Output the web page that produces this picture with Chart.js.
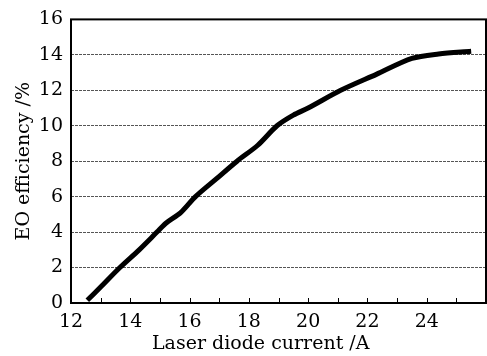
<!DOCTYPE html>
<html>
<head>
<meta charset="utf-8">
<script src="https://cdn.jsdelivr.net/npm/chart.js@4/dist/chart.umd.min.js"></script>
<style>
  html, body { margin: 0; padding: 0; background: #fff; }
  #wrap { width: 487px; height: 356px; }
</style>
</head>
<body>
<div id="wrap"><canvas id="effChart" width="487" height="356"></canvas></div>
<script>
// diode current (A) and electro-optic efficiency (%)
const currentA = [12.55, 13.0, 13.65, 14.3, 14.9, 15.2, 15.7, 16.2, 16.9, 17.6, 18.3, 18.95, 19.5, 20.0, 21.1, 22.3, 23.5, 24.4, 25.5];
const efficiency = [0.15, 0.9, 2.0, 3.0, 4.0, 4.5, 5.1, 6.0, 7.0, 8.0, 8.9, 10.0, 10.6, 11.0, 12.0, 12.9, 13.8, 14.05, 14.2];
const xLabels = [12, 14, 16, 18, 20, 22, 24];
const xTitle = 'Laser diode current /A';

const serif = '"DejaVu Serif", "Liberation Serif", serif';

// box round the plot, small inward ticks on the bottom axis, x title
const frameTicks = {
  id: 'frameTicks',
  afterDraw(chart) {
    const { ctx, chartArea: a, scales } = chart;
    ctx.save();
    ctx.strokeStyle = '#000';
    ctx.lineWidth = 1;
    for (let v = 13; v < 26; v++) {
      const px = Math.round(scales.x.getPixelForValue(v)) + 0.5;
      ctx.beginPath();
      ctx.moveTo(px, a.bottom);
      ctx.lineTo(px, a.bottom - 5);
      ctx.stroke();
    }
    ctx.lineWidth = 2;
    ctx.strokeRect(a.left, a.top, a.right - a.left, a.bottom - a.top);

    // title sits a bit left of the plot centre in the original
    ctx.fillStyle = '#000';
    ctx.font = '19px ' + serif;
    ctx.textAlign = 'center';
    ctx.textBaseline = 'middle';
    ctx.fillText(xTitle, scales.x.getPixelForValue(18.4), 344);
    ctx.restore();
  }
};

new Chart(document.getElementById('effChart').getContext('2d'), {
  type: 'line',
  data: {
    datasets: [{
      data: currentA.map((c, i) => ({ x: c, y: efficiency[i] })),
      borderColor: '#000',
      borderWidth: 5,
      pointRadius: 0,
      tension: 0.3,
      fill: false
    }]
  },
  options: {
    responsive: false,
    animation: false,
    layout: { padding: { left: 0, right: 1, top: 15, bottom: 0 } },
    plugins: { legend: { display: false }, tooltip: { enabled: false } },
    scales: {
      x: {
        type: 'linear',
        min: 12,
        max: 26,
        afterFit(s) { s.height = 53; },
        grid: { display: false },
        border: { display: false },
        ticks: {
          stepSize: 2,
          autoSkip: false,
          maxRotation: 0,
          padding: 0,
          color: '#000',
          font: { family: serif, size: 19 },
          callback: v => xLabels.includes(v) ? String(v) : ''
        }
      },
      y: {
        min: 0,
        max: 16,
        afterFit(s) { s.width = 71; },
        grid: {
          color: '#555',
          lineWidth: 1,
          drawTicks: false
        },
        border: { display: false, dash: [3, 1] },
        ticks: {
          stepSize: 2,
          padding: 8,
          color: '#000',
          font: { family: serif, size: 19 }
        },
        title: {
          display: true,
          text: 'EO efficiency /%',
          color: '#000',
          font: { family: serif, size: 19 },
          padding: { top: 13, bottom: 0 }
        }
      }
    }
  },
  plugins: [frameTicks]
});
</script>
</body>
</html>
